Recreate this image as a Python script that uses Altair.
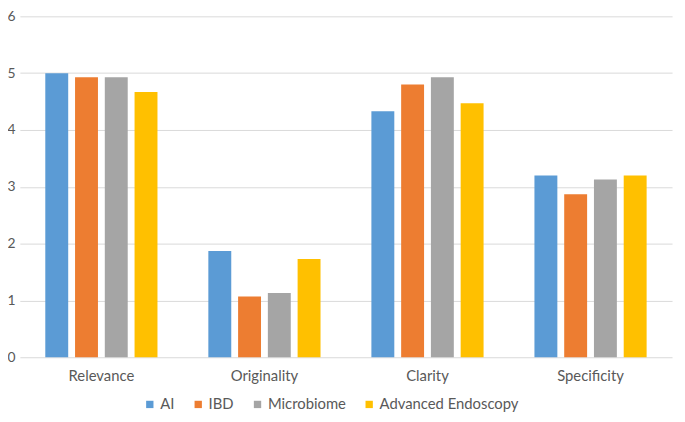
import altair as alt
import pandas as pd

categories = ["Relevance", "Originality", "Clarity", "Specificity"]
series = ["AI", "IBD", "Microbiome", "Advanced Endoscopy"]
colors = ["#5B9BD5", "#ED7D31", "#A5A5A5", "#FFC000"]
values = {
    "AI": [5.00, 1.87, 4.33, 3.20],
    "IBD": [4.93, 1.07, 4.80, 2.87],
    "Microbiome": [4.93, 1.13, 4.93, 3.13],
    "Advanced Endoscopy": [4.67, 1.73, 4.47, 3.20],
}

rows = []
for s in series:
    for c, v in zip(categories, values[s]):
        rows.append({"category": c, "series": s, "value": v})
df = pd.DataFrame(rows)

font = "Lato"
chart = alt.Chart(df).mark_bar().encode(
    x=alt.X("category:N", sort=categories, title=None,
            scale=alt.Scale(paddingInner=0.27, paddingOuter=0.135),
            axis=alt.Axis(labelAngle=0, ticks=False, domain=False, labelPadding=12,
                          labelFontSize=15, labelColor="#595959", labelFont=font)),
    xOffset=alt.XOffset("series:N", sort=series,
                        scale=alt.Scale(paddingInner=0.23, paddingOuter=0.115)),
    y=alt.Y("value:Q", title=None,
            scale=alt.Scale(domain=[0, 6], nice=False),
            axis=alt.Axis(values=[0, 1, 2, 3, 4, 5, 6], ticks=False, domain=False,
                          gridColor="#D9D9D9", gridWidth=1, labelPadding=5,
                          labelFontSize=14, labelColor="#595959", labelFont=font)),
    color=alt.Color("series:N", sort=series, title=None,
                    scale=alt.Scale(domain=series, range=colors),
                    legend=alt.Legend(orient="none", direction="horizontal",
                                      legendX=124, legendY=385,
                                      symbolType="square", symbolSize=55,
                                      symbolStrokeWidth=0, labelFontSize=15,
                                      labelColor="#595959", labelFont=font,
                                      columnPadding=16, labelOffset=3)),
).properties(
    width=660, height=345,
    autosize=alt.AutoSizeParams(type="none"),
    padding={"left": 12, "top": 6, "right": 5, "bottom": 55},
).configure_view(stroke=None)

chart.save("out.html", embed_options={"renderer": "svg", "actions": False})
